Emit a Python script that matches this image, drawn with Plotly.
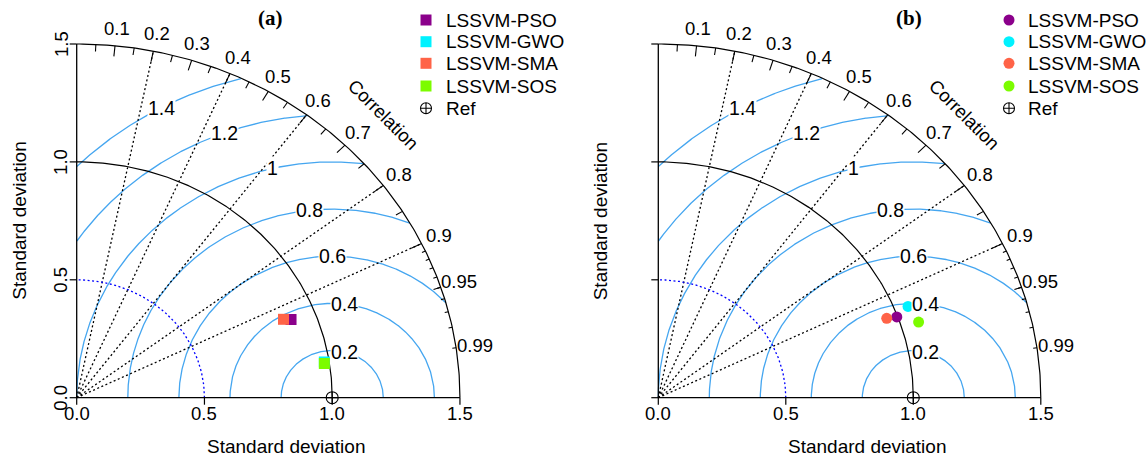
import numpy as np
import plotly.graph_objects as go

# ---------------- data ----------------
models = ["LSSVM-PSO", "LSSVM-GWO", "LSSVM-SMA", "LSSVM-SOS"]
model_colors = ["#8B008B", "#00F2FF", "#FF6347", "#7CFC00"]
sd_a = [0.902, 0.981, 0.875, 0.980]
cor_a = [0.930, 0.988, 0.925, 0.989]
sd_b = [0.996, 1.053, 0.957, 1.070]
cor_b = [0.939, 0.930, 0.936, 0.954]
ref_sd = 1.0
max_sd = 1.5
sd_ticks = [0.0, 0.5, 1.0, 1.5]
sd_tick_labels = ["0.0", "0.5", "1.0", "1.5"]
cor_label_vals = [0.1, 0.2, 0.3, 0.4, 0.5, 0.6, 0.7, 0.8, 0.9, 0.95, 0.99]
cor_label_text = ["0.1", "0.2", "0.3", "0.4", "0.5", "0.6", "0.7", "0.8", "0.9", "0.95", "0.99"]
corr_lines = [0.2, 0.4, 0.6, 0.8, 0.9]
gamma_levels = [0.2, 0.4, 0.6, 0.8, 1.0, 1.2, 1.4]
gamma_labels = ["0.2", "0.4", "0.6", "0.8", "1", "1.2", "1.4"]
gamma_label_angle = [76, 83, 90, 96.5, 103.5, 110.5, 118.5]
inner_sd_arc = 0.5

FONT = "Liberation Sans, Arial, sans-serif"
FS = 18.5
GAMMA_COL = "#45A6F0"

# pixel geometry of the two panels (origin px, scale px/unit)
W, H = 1148, 461
panels = [
    dict(ox=76.7, oy=397.7, sx=255.5, sy=235.8, dom=[0, 0.5], px0=0, px1=574,
         sd=sd_a, cor=cor_a, sym="square", title="(a)", title_px=(270, 18)),
    dict(ox=658.3, oy=397.7, sx=255.0, sy=235.8, dom=[0.5, 1.0], px0=574, px1=1148,
         sd=sd_b, cor=cor_b, sym="circle", title="(b)", title_px=(909, 18)),
]

fig = go.Figure()
annotations = []

for k, p in enumerate(panels):
    xa = "x" if k == 0 else "x2"
    ya = "y" if k == 0 else "y2"
    ox, oy, sx, sy = p["ox"], p["oy"], p["sx"], p["sy"]

    def dx(px):  # pixel x -> data
        return (px - ox) / sx

    def dy(py):  # pixel y -> data
        return (oy - py) / sy

    def line(xs, ys, color="black", width=1.2, dash="solid"):
        fig.add_trace(go.Scatter(x=xs, y=ys, mode="lines", xaxis=xa, yaxis=ya,
                                 line=dict(color=color, width=width, dash=dash),
                                 hoverinfo="skip", showlegend=False))

    def text(x, y, s, size=FS, angle=0, xanchor="center", yanchor="middle",
             bg=None, family=FONT, color="black"):
        a = dict(x=x, y=y, xref=xa, yref=ya, text=s, showarrow=False,
                 font=dict(family=family, size=size, color=color),
                 textangle=angle, xanchor=xanchor, yanchor=yanchor)
        if bg:
            a.update(bgcolor=bg, borderpad=0)
        annotations.append(a)

    # gamma (centred RMS) contours
    t = np.linspace(0, np.pi, 1200)
    for g in gamma_levels:
        gx = ref_sd + g * np.cos(t)
        gy = g * np.sin(t)
        m = (gx >= 0) & (gx ** 2 + gy ** 2 <= max_sd ** 2)
        gx = np.where(m, gx, np.nan)
        gy = np.where(m, gy, np.nan)
        line(gx, gy, color=GAMMA_COL, width=1.3)

    # dotted correlation lines
    for c in corr_lines:
        line([0, max_sd * c], [0, max_sd * np.sqrt(1 - c ** 2)], dash="2px,2.5px", width=1.3)

    # blue dotted sd arc
    a = np.linspace(0, np.pi / 2, 200)
    line(inner_sd_arc * np.cos(a), inner_sd_arc * np.sin(a), color="#0000FF",
         dash="2px,2.5px", width=1.3)
    # reference sd arc and outer arc
    line(ref_sd * np.cos(a), ref_sd * np.sin(a), width=1.2)
    line(max_sd * np.cos(a), max_sd * np.sin(a), width=1.2)

    # outer-arc ticks
    tx, ty = [], []
    for vals, f in [(np.arange(0.1, 0.91, 0.1), 0.97),
                    (np.arange(0.05, 0.96, 0.1), 0.98),
                    (np.arange(0.91, 0.995, 0.01), 0.99)]:
        for c in vals:
            s = np.sqrt(1 - c ** 2)
            tx += [max_sd * c, max_sd * c * f, None]
            ty += [max_sd * s, max_sd * s * f, None]
    line(tx, ty, width=1.1)

    # axes
    line([0, max_sd], [0, 0], width=1.3)
    line([0, 0], [0, max_sd], width=1.3)
    tl = 7
    ax_x, ax_y = [], []
    for v in sd_ticks:
        ax_x += [v, v, None]
        ax_y += [0, dy(oy + tl), None]
    line(ax_x, ax_y, width=1.2)
    ay_x, ay_y = [], []
    for v in sd_ticks:
        ay_x += [0, dx(ox - tl), None]
        ay_y += [v, v, None]
    line(ay_x, ay_y, width=1.2)

    # gamma labels
    for g, lab, ang in zip(gamma_levels, gamma_labels, gamma_label_angle):
        r = np.radians(ang)
        text(ref_sd + g * np.cos(r), g * np.sin(r), lab, size=19.5, bg="white")

    # correlation labels
    for c, lab in zip(cor_label_vals, cor_label_text):
        text(1.05 * max_sd * c, 1.05 * max_sd * np.sqrt(1 - c ** 2), lab)
    text(0.8 * max_sd, 0.8 * max_sd, "Correlation", angle=45)

    # tick labels
    for v, lab in zip(sd_ticks, sd_tick_labels):
        text(v, dy(413), lab)
        text(dx(61), v, lab, angle=-90)
    text(dx(ox + 209), dy(446), "Standard deviation", size=19)
    text(dx(ox - 58), dy(221), "Standard deviation", angle=-90, size=19)

    # panel title
    text(dx(p["title_px"][0]), dy(p["title_px"][1]), "<b>" + p["title"] + "</b>",
         size=21, family="Liberation Serif, Times New Roman, serif")

    # reference point
    fig.add_trace(go.Scatter(x=[ref_sd], y=[0], mode="markers", xaxis=xa, yaxis=ya,
                             marker=dict(symbol="circle-cross-open", size=12,
                                         line=dict(color="black", width=1.1), color="black"),
                             showlegend=False, hoverinfo="skip"))

    # model points
    for name, col, s, c in zip(models, model_colors, p["sd"], p["cor"]):
        fig.add_trace(go.Scatter(x=[s * c], y=[s * np.sqrt(1 - c ** 2)], mode="markers",
                                 xaxis=xa, yaxis=ya, name=name,
                                 marker=dict(symbol=p["sym"], size=11, color=col,
                                             line=dict(width=0)),
                                 showlegend=False))

    # legend (drawn manually)
    lx_px = 426 if k == 0 else 1009
    tx_px = 444 if k == 0 else 1026
    rows = [20, 41.7, 63.3, 86, 108.3]
    for i, (name, col) in enumerate(zip(models, model_colors)):
        fig.add_trace(go.Scatter(x=[dx(lx_px)], y=[dy(rows[i])], mode="markers",
                                 xaxis=xa, yaxis=ya, showlegend=False, hoverinfo="skip",
                                 marker=dict(symbol=p["sym"], size=11, color=col,
                                             line=dict(width=0))))
        text(dx(tx_px), dy(rows[i]), name, size=19, xanchor="left")
    fig.add_trace(go.Scatter(x=[dx(lx_px)], y=[dy(rows[4])], mode="markers",
                             xaxis=xa, yaxis=ya, showlegend=False, hoverinfo="skip",
                             marker=dict(symbol="circle-cross-open", size=11, color="black",
                                         line=dict(color="black", width=1.1))))
    text(dx(tx_px), dy(rows[4]), "Ref", size=19, xanchor="left")

    xr = [dx(p["px0"]), dx(p["px1"])]
    yr = [dy(H), dy(0)]
    axis_common = dict(visible=False, fixedrange=True, showgrid=False, zeroline=False)
    if k == 0:
        fig.update_layout(xaxis=dict(domain=p["dom"], range=xr, anchor="y", **axis_common),
                          yaxis=dict(domain=[0, 1], range=yr, anchor="x", **axis_common))
    else:
        fig.update_layout(xaxis2=dict(domain=p["dom"], range=xr, anchor="y2", **axis_common),
                          yaxis2=dict(domain=[0, 1], range=yr, anchor="x2", **axis_common))

fig.update_layout(width=W, height=H, margin=dict(l=0, r=0, t=0, b=0),
                  paper_bgcolor="white", plot_bgcolor="white",
                  showlegend=False, annotations=annotations)
fig.write_html("out.html", config={"displayModeBar": False},
               post_script="document.body.style.margin='0px';document.body.style.overflow='hidden';")
